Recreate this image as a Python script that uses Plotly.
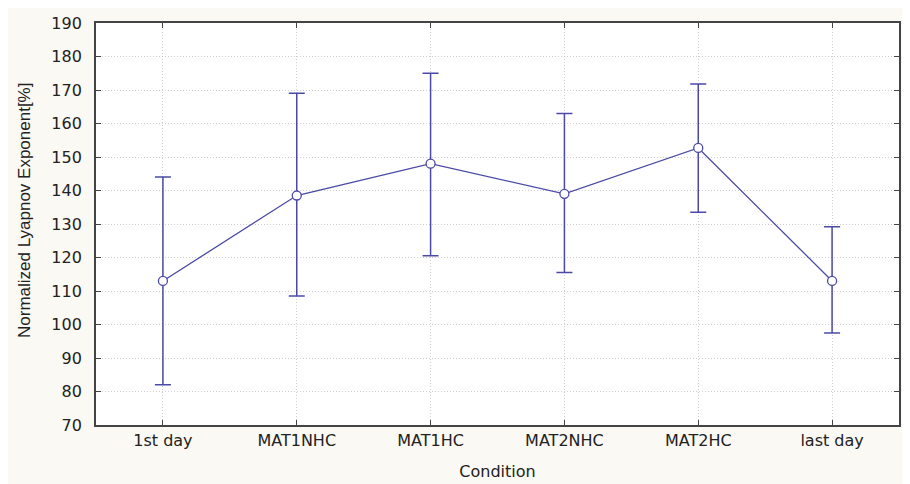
import plotly.graph_objects as go

categories = ["1st day", "MAT1NHC", "MAT1HC", "MAT2NHC", "MAT2HC", "last day"]
means = [113.0, 138.5, 148.0, 139.0, 152.7, 113.0]
upper = [144.0, 169.0, 175.0, 163.0, 171.8, 129.2]
lower = [82.0, 108.5, 120.5, 115.5, 133.5, 97.5]

err_plus = [u - m for u, m in zip(upper, means)]
err_minus = [m - l for m, l in zip(means, lower)]

color = "#4a4aa6"

fig = go.Figure()
fig.add_trace(go.Scatter(
    x=list(range(len(categories))), y=means,
    mode="lines+markers",
    line=dict(color=color, width=1.3),
    marker=dict(symbol="circle", size=9, color="white", line=dict(color=color, width=1.3)),
    error_y=dict(type="data", symmetric=False, array=err_plus, arrayminus=err_minus,
                 color=color, thickness=1.5, width=8),
    showlegend=False,
))

font = "DejaVu Sans, sans-serif"
fig.update_layout(
    width=902, height=476,
    margin=dict(l=88, r=11, t=15, b=59),
    paper_bgcolor="#faf9f4",
    plot_bgcolor="white",
    font=dict(family=font, color="#222", size=16),
    xaxis=dict(
        tickmode="array", tickvals=list(range(len(categories))), ticktext=categories,
        range=[-0.5, 5.5], showgrid=True, gridcolor="#cfcfcf", griddash="1px,2px", gridwidth=1,
        showline=True, linecolor="#444", linewidth=1.8, mirror="ticks",
        ticks="inside", ticklen=5, tickcolor="#444",
        tickfont=dict(family=font, size=16, color="#222"),
        title=dict(text="Condition", font=dict(size=16, family=font), standoff=17),
        zeroline=False, automargin=False,
    ),
    yaxis=dict(
        range=[70, 190], tickmode="array", tickvals=list(range(70, 191, 10)),
        showgrid=True, gridcolor="#cfcfcf", griddash="1px,2px", gridwidth=1,
        showline=True, linecolor="#444", linewidth=1.8, mirror="ticks",
        ticks="inside", ticklen=5, tickcolor="#444",
        tickfont=dict(family=font, size=16, color="#222"),
        ticklabelstandoff=9,
        zeroline=False, automargin=False,
    ),
    annotations=[dict(
        text="Normalized Lyapnov Exponent[%]", textangle=-90,
        xref="paper", yref="paper",
        x=(24 - 96) / 803, y=(425 - 211) / 402,
        xanchor="center", yanchor="middle", showarrow=False,
        font=dict(family="Liberation Sans, Arial, sans-serif", size=17, color="#222"),
    )],
)

fig.write_html("out.html")
